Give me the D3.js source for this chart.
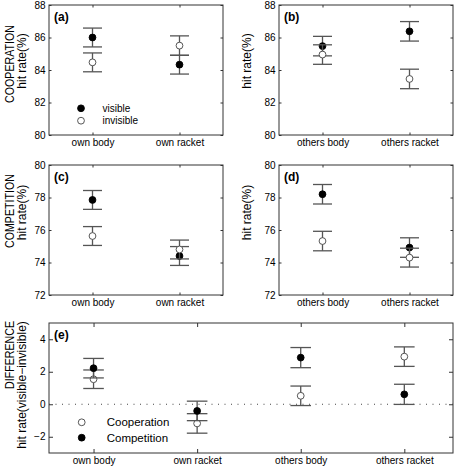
<!DOCTYPE html>
<html><head><meta charset="utf-8">
<script src="https://cdn.jsdelivr.net/npm/d3@7"></script>
<style>body{margin:0;background:#fff}svg{display:block}text{font-family:"Liberation Sans",Arial,Helvetica,sans-serif;fill:#000}</style>
</head><body><div id="chart"></div>
<script>
// ---- data ----
const ownCategories = ["own body", "own racket"];
const othersCategories = ["others body", "others racket"];
const diffCategories = ["own body", "own racket", "others body", "others racket"];

const coopOwnVisible = [86.0, 84.33];      const coopOwnVisibleErr = [0.58, 0.58];
const coopOwnInvisible = [84.47, 85.5];    const coopOwnInvisibleErr = [0.58, 0.6];
const coopOthersVisible = [85.47, 86.38];  const coopOthersVisibleErr = [0.6, 0.6];
const coopOthersInvisible = [84.95, 83.45];const coopOthersInvisibleErr = [0.6, 0.6];

const compOwnVisible = [77.85, 74.4];      const compOwnVisibleErr = [0.58, 0.58];
const compOwnInvisible = [75.63, 74.8];    const compOwnInvisibleErr = [0.58, 0.58];
const compOthersVisible = [78.2, 74.92];   const compOthersVisibleErr = [0.6, 0.6];
const compOthersInvisible = [75.32, 74.3]; const compOthersInvisibleErr = [0.6, 0.58];

const diffCooperation = [1.54, -1.18, 0.52, 2.93]; const diffCooperationErr = [0.57, 0.6, 0.6, 0.6];
const diffCompetition = [2.22, -0.41, 2.87, 0.61]; const diffCompetitionErr = [0.6, 0.6, 0.62, 0.62];

const coopTicks = [80, 82, 84, 86, 88];
const compTicks = [72, 74, 76, 78, 80];
const diffTicks = [-2, 0, 2, 4];

// ---- drawing ----
const W = 455, H = 467;
const svg = d3.select("#chart").append("svg").attr("width", W).attr("height", H);
const AX = "#333", EB = "#555";

function panel(o) {
  const g = svg.append("g");
  const x = d3.scaleLinear().domain(o.xDomain).range([o.left, o.left + o.w]);
  const y = d3.scaleLinear().domain(o.yDomain).range([o.top + o.h, o.top]);
  const tl = o.tickLen;
  const yl = g.append("g").attr("transform", `translate(${o.left},0)`)
    .call(d3.axisLeft(y).tickValues(o.yTicks).tickSizeInner(-tl).tickSizeOuter(0).tickPadding(3.5).tickFormat(d => d < 0 ? "\u2212" + Math.abs(d) : d));
  const yr = g.append("g").attr("transform", `translate(${o.left + o.w},0)`)
    .call(d3.axisRight(y).tickValues(o.yTicks).tickSizeInner(-tl).tickSizeOuter(0).tickFormat(""));
  const xb = g.append("g").attr("transform", `translate(0,${o.top + o.h})`)
    .call(d3.axisBottom(x).tickValues(o.cats.map((c, i) => i + 1)).tickSizeInner(-tl).tickSizeOuter(0).tickPadding(3.6).tickFormat((d) => o.cats[d - 1]));
  const xt = g.append("g").attr("transform", `translate(0,${o.top})`)
    .call(d3.axisTop(x).tickValues(o.cats.map((c, i) => i + 1)).tickSizeInner(-tl).tickSizeOuter(0).tickFormat(""));
  [yl, yr, xb, xt].forEach(a => {
    a.select(".domain").remove();
    a.selectAll("line").attr("stroke", AX);
    a.selectAll("text").attr("font-size", 10).attr("font-family", '"Liberation Sans",Arial,sans-serif').attr("fill", "#000");
  });
  g.append("rect").attr("x", o.left).attr("y", o.top).attr("width", o.w).attr("height", o.h)
    .attr("fill", "none").attr("stroke", AX).attr("stroke-width", 1);
  if (o.zeroLine) {
    g.append("line").attr("x1", o.left).attr("x2", o.left + o.w).attr("y1", y(0)).attr("y2", y(0))
      .attr("stroke", "#444").attr("stroke-width", 1).attr("stroke-dasharray", "1,5.5");
  }
  o.series.forEach(s => {
    s.values.forEach((v, i) => {
      const cx = x(i + 1), e = s.err[i];
      const eg = g.append("g").attr("stroke", EB).attr("stroke-width", 1.3);
      eg.append("line").attr("x1", cx).attr("x2", cx).attr("y1", y(v - e)).attr("y2", y(v + e));
      eg.append("line").attr("x1", cx - o.cap).attr("x2", cx + o.cap).attr("y1", y(v - e)).attr("y2", y(v - e));
      eg.append("line").attr("x1", cx - o.cap).attr("x2", cx + o.cap).attr("y1", y(v + e)).attr("y2", y(v + e));
      g.append("circle").attr("cx", cx).attr("cy", y(v)).attr("r", 3.4)
        .attr("fill", s.filled ? "#000" : "#fff").attr("stroke", s.filled ? "#000" : "#444").attr("stroke-width", 0.9);
    });
  });
  g.append("text").attr("x", o.left + 5).attr("y", o.top + 16).attr("font-size", 12).attr("font-weight", "bold").text(o.label);
  return {x, y, g};
}

function ylab(txt, x, y, size, sx) {
  svg.append("text").attr("transform", `translate(${x},${y}) rotate(-90) scale(${sx},1)`)
    .attr("text-anchor", "middle").attr("font-size", size).text(txt);
}

const small = {w: 174, h: 130, tickLen: 2.5, cap: 9.5, xDomain: [0.5, 2.5]};
panel(Object.assign({}, small, {left: 49, top: 5, yDomain: [80, 88], yTicks: coopTicks, cats: ownCategories, label: "(a)",
  series: [{values: coopOwnVisible, err: coopOwnVisibleErr, filled: true}, {values: coopOwnInvisible, err: coopOwnInvisibleErr, filled: false}]}));
panel(Object.assign({}, small, {left: 279, top: 5, yDomain: [80, 88], yTicks: coopTicks, cats: othersCategories, label: "(b)",
  series: [{values: coopOthersVisible, err: coopOthersVisibleErr, filled: true}, {values: coopOthersInvisible, err: coopOthersInvisibleErr, filled: false}]}));
panel(Object.assign({}, small, {left: 49, top: 165, yDomain: [72, 80], yTicks: compTicks, cats: ownCategories, label: "(c)",
  series: [{values: compOwnVisible, err: compOwnVisibleErr, filled: true}, {values: compOwnInvisible, err: compOwnInvisibleErr, filled: false}]}));
panel(Object.assign({}, small, {left: 279, top: 165, yDomain: [72, 80], yTicks: compTicks, cats: othersCategories, label: "(d)",
  series: [{values: compOthersVisible, err: compOthersVisibleErr, filled: true}, {values: compOthersInvisible, err: compOthersInvisibleErr, filled: false}]}));
panel({left: 49, top: 323, w: 404, h: 130, tickLen: 4, cap: 10.3, xDomain: [0.57, 4.47], yDomain: [-3, 5], yTicks: diffTicks,
  cats: diffCategories, label: "(e)", zeroLine: true,
  series: [{values: diffCooperation, err: diffCooperationErr, filled: false}, {values: diffCompetition, err: diffCompetitionErr, filled: true}]});

// legends
function legendItem(cx, cy, filled, txt, size) {
  svg.append("circle").attr("cx", cx).attr("cy", cy).attr("r", 3.4)
    .attr("fill", filled ? "#000" : "#fff").attr("stroke", filled ? "#000" : "#444").attr("stroke-width", 0.9);
  svg.append("text").attr("x", cx + (size > 10.5 ? 25 : 21.5)).attr("y", cy + size * 0.36).attr("font-size", size).text(txt);
}
legendItem(81, 108.3, true, "visible", 10);
legendItem(81, 120.7, false, "invisible", 10);
legendItem(81.7, 422.3, false, "Cooperation", 11.5);
legendItem(81.7, 437.7, true, "Competition", 11.5);

// y labels
ylab("COOPERATION", 13.5, 64, 13, 0.82);
ylab("hit rate(%)", 26, 61, 12, 1);
ylab("hit rate(%)", 251, 61, 12, 1);
ylab("COMPETITION", 13.5, 211, 13, 0.82);
ylab("hit rate(%)", 26, 212.5, 12, 1);
ylab("hit rate(%)", 251, 212.5, 12, 1);
ylab("DIFFERENCE", 13.5, 355, 13, 0.82);
ylab("hit rate(visible\u2212invisible)", 26, 385, 12, 1);
</script></body></html>
